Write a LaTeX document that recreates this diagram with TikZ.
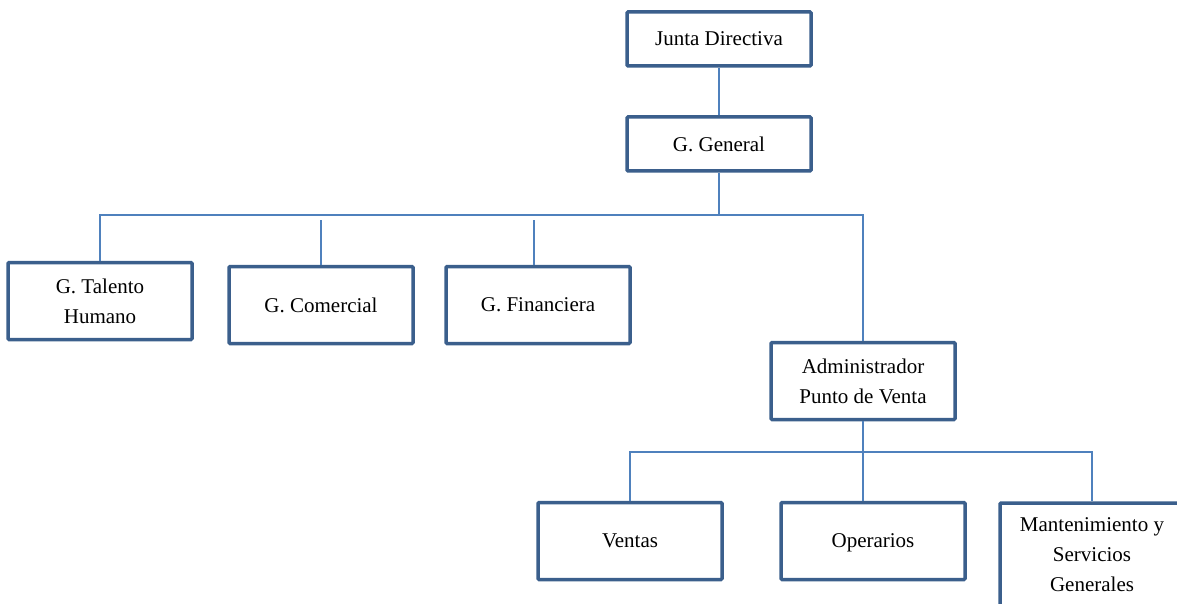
\documentclass[tikz,border=0pt]{standalone}
\usepackage{fontspec}
\setmainfont{Liberation Serif}
\definecolor{boxblue}{HTML}{3B5F8C}
\definecolor{lineblue}{HTML}{4F81BD}
\tikzset{box/.style={
    draw=boxblue, line width=3.5pt, fill=white, rounded corners=1pt,
    minimum width=184pt, minimum height=#1, inner sep=2pt,
    align=center, font=\fontsize{21}{30}\selectfont
  },
  box/.default={77pt},
  link/.style={draw=lineblue, line width=1.2pt}
}

\begin{document}
\begin{tikzpicture}[x=1pt,y=-1pt]
    \useasboundingbox (0,0) rectangle (1177,604);
    \clip (0,0) rectangle (1177,604);

    % top
    \node[box=54pt] (junta) at (719,39) {Junta Directiva};
    \node[box=54pt] (general) at (719,144) {G. General};

    % gerencias
    \node[box] (talento) at (100,301) {G. Talento\\Humano};
    \node[box] (comercial) at (321,305) {G. Comercial};
    \node[box] (financiera) at (538,305) {G. Financiera};
    \node[box] (admin) at (863,381) {Administrador\\Punto de Venta};

    % punto de venta
    \node[box] (ventas) at (630,541) {Ventas\strut};
    \node[box] (operarios) at (873,541) {Operarios\strut};
    \node[box=104pt] (mant) at (1092,555) {Mantenimiento y\\Servicios\\Generales};

    \coordinate (bus) at (0,215);
    \coordinate (drop) at (0,220);
    \coordinate (busb) at (0,452);

    \draw[link] (junta) -- (general);
    \draw[link] (general.south) -- (general.south |- bus);
    \draw[link] (talento.north) -- (talento.north |- bus) -- (admin.north |- bus) -- (admin.north);
    \draw[link] (comercial.north) -- (comercial.north |- drop);
    \draw[link] ([xshift=-4pt]financiera.north) -- ([xshift=-4pt]financiera.north |- drop);

    \draw[link] (admin.south) -- (admin.south |- busb);
    \draw[link] (ventas.north) -- (ventas.north |- busb) -- (mant.north |- busb) -- (mant.north);
    \draw[link] (operarios.north -| admin.south) -- (admin.south |- busb);
\end{tikzpicture}
\end{document}
